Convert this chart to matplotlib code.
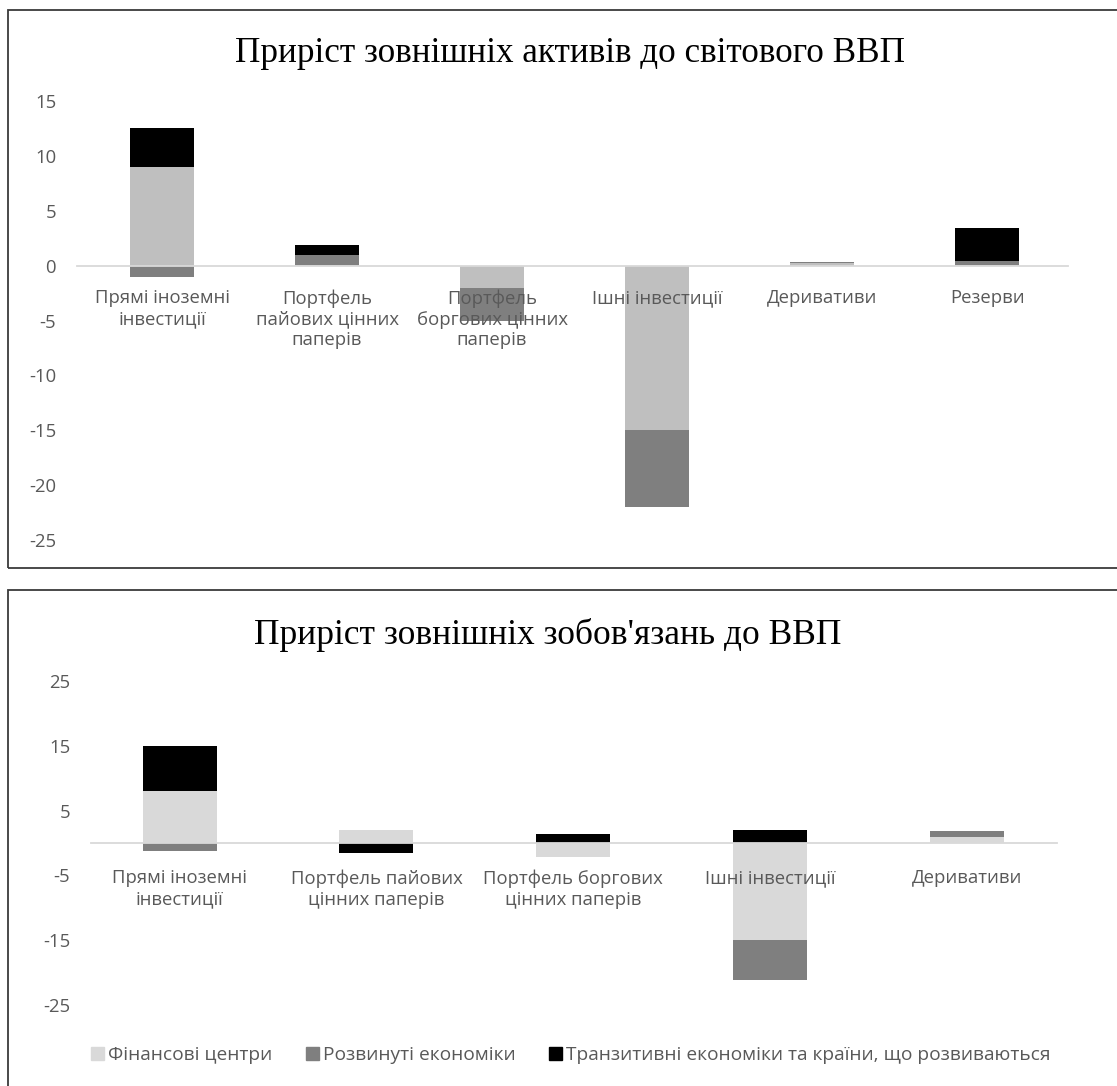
import matplotlib
matplotlib.use("Agg")
import matplotlib.pyplot as plt
from matplotlib.patches import Rectangle
import numpy as np

# ---- data ----
series_names = ["Фінансові центри", "Розвинуті економіки",
                "Транзитивні економіки та країни, що розвиваються"]

assets_categories = ["Прямі іноземні\nінвестиції", "Портфель\nпайових цінних\nпаперів",
                     "Портфель\nборгових цінних\nпаперів", "Ішні інвестиції",
                     "Деривативи", "Резерви"]
assets_fin_centres = [9.0, 0.1, -2.0, -15.0, 0.25, 0.1]
assets_developed = [-1.0, 0.9, -3.0, -7.0, 0.05, 0.3]
assets_emerging = [3.5, 0.9, 0.0, 0.0, 0.0, 3.0]

liab_categories = ["Прямі іноземні\nінвестиції", "Портфель пайових\nцінних паперів",
                   "Портфель боргових\nцінних паперів", "Ішні інвестиції", "Деривативи"]
liab_fin_centres = [8.0, 2.0, -2.1, -15.0, 0.9]
liab_developed = [-1.2, 0.0, 0.0, -6.1, 1.0]
liab_emerging = [7.0, -1.6, 1.4, 2.0, 0.0]

assets_ticks = [15, 10, 5, 0, -5, -10, -15, -20, -25]
liab_ticks = [25, 15, 5, -5, -15, -25]

FONT = "Open Sans"
TEXT_GREY = "#595959"
LABEL_SIZE = 13.3

W, H = 1117, 1086
fig = plt.figure(figsize=(W / 100, H / 100), dpi=100)


def px_rect(x0, y0, x1, y1):
    """Convert pixel box (top-left origin) to figure fraction [l, b, w, h]."""
    return [x0 / W, 1 - y1 / H, (x1 - x0) / W, (y1 - y0) / H]


def stacked(ax, cats, series, colors, width, ticks, ylim, xlim, pad):
    x = np.arange(len(cats))
    pos = np.zeros(len(cats))
    neg = np.zeros(len(cats))
    for vals, col in zip(series, colors):
        v = np.asarray(vals, dtype=float)
        base = np.where(v >= 0, pos, neg)
        ax.bar(x, v, width=width, bottom=base, color=col, linewidth=0)
        pos = pos + np.where(v > 0, v, 0)
        neg = neg + np.where(v < 0, v, 0)
    ax.set_xlim(*xlim)
    ax.set_ylim(*ylim)
    ax.set_yticks(ticks)
    ax.set_yticklabels([str(t) for t in ticks])
    ax.set_xticks(x)
    ax.set_xticklabels(cats, linespacing=1.18)
    for s in ("top", "right", "left"):
        ax.spines[s].set_visible(False)
    ax.spines["bottom"].set_position(("data", 0))
    ax.spines["bottom"].set_color("#d9d9d9")
    ax.spines["bottom"].set_linewidth(1.3)
    ax.tick_params(axis="x", length=0, pad=pad, labelsize=LABEL_SIZE, colors=TEXT_GREY)
    ax.tick_params(axis="y", length=0, pad=15, labelsize=LABEL_SIZE, colors=TEXT_GREY)
    for lab in ax.get_xticklabels() + ax.get_yticklabels():
        lab.set_fontfamily(FONT)


# outer chart frames
for box in [(8, 10, W + 10, 568), (8, 590, W + 10, H + 10)]:
    fig.patches.append(Rectangle((box[0] / W, 1 - box[3] / H),
                                 (box[2] - box[0]) / W, (box[3] - box[1]) / H,
                                 transform=fig.transFigure, fill=False,
                                 edgecolor="#3a3a3a", linewidth=1.3))

# top chart: assets
ax1 = fig.add_axes(px_rect(77, 101, 1068, 540))
stacked(ax1, assets_categories,
        [assets_fin_centres, assets_developed, assets_emerging],
        ["#bfbfbf", "#7f7f7f", "#000000"], 0.39,
        assets_ticks, (-25, 15), (-0.515, 5.49), 17)
fig.text(570 / W, 1 - 62 / H, "Приріст зовнішніх активів до світового ВВП",
         ha="center", va="baseline", fontsize=25.3, family="Liberation Serif", color="#000000")

# bottom chart: liabilities
ax2 = fig.add_axes(px_rect(91, 681, 1057, 1005))
stacked(ax2, liab_categories,
        [liab_fin_centres, liab_developed, liab_emerging],
        ["#d9d9d9", "#7f7f7f", "#000000"], 0.376,
        liab_ticks, (-25, 25), (-0.45, 4.457), 19)
fig.text(548 / W, 1 - 644 / H, "Приріст зовнішніх зобов'язань до ВВП",
         ha="center", va="baseline", fontsize=25.5, family="Liberation Serif", color="#000000")

# legend
handles = [Rectangle((0, 0), 1, 1, color=c) for c in ["#d9d9d9", "#7f7f7f", "#000000"]]
fig.legend(handles, series_names, loc="center", bbox_to_anchor=(571 / W, 1 - 1055 / H),
           ncol=3, frameon=False, handlelength=0.68, handleheight=0.68,
           handletextpad=0.22, columnspacing=1.75, borderpad=0,
           prop={"family": FONT, "size": 13.75}, labelcolor=TEXT_GREY)

fig.savefig("out.png", dpi=100, facecolor="white")
